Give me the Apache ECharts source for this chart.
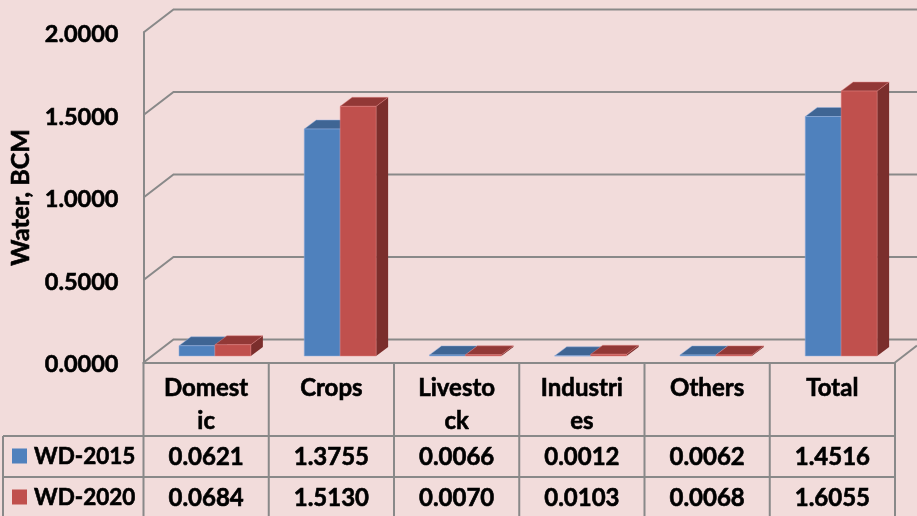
<!DOCTYPE html>
<html>
<head>
<meta charset="utf-8">
<style>html,body{margin:0;padding:0;background:#F2DCDB}#c{width:917px;height:516px}</style>
<script src="https://cdn.jsdelivr.net/npm/echarts@6/dist/echarts.min.js"></script>
</head>
<body>
<div id="c"></div>
<script>
const categories = ['Domest\nic', 'Crops', 'Livesto\nck', 'Industri\nes', 'Others', 'Total'];
const wd2015 = [0.0621, 1.3755, 0.0066, 0.0012, 0.0062, 1.4516];
const wd2020 = [0.0684, 1.5130, 0.0070, 0.0103, 0.0068, 1.6055];
const seriesNames = ['WD-2015', 'WD-2020'];
const yTicks = [0, 0.5, 1, 1.5, 2];

const FONT = 'bold 24px Lato';
const ROW_FONT = 'bold 22.5px Lato';
const LINE = '#898989';
const BG = '#F2DCDB';
const palettes = [
  { front: '#4F81BD', top: '#3F6594', side: '#335680', edge: 'rgba(150,180,225,0.6)' },
  { front: '#C0504D', top: '#923836', side: '#7B2E2C', edge: 'rgba(225,130,130,0.6)' }
];
const rowY = [457, 498];
const tableLines = [436, 477];
const heavy = { stroke: '#000', lineWidth: 0.6 };
const heavyLabel = { textBorderColor: '#000', textBorderWidth: 0.6 };

function barRender(idx) {
  return function (params, api) {
    const base = api.coord([api.value(0), 0]);
    const top = api.coord([api.value(0), api.value(1)]);
    const band = api.size([1, 0])[0];
    const w = band * 0.287, shiftX = 8.8, shiftY = 6.5, dx = 12, dy = 9;
    const x0 = base[0] + shiftX + (idx === 0 ? -w : 0), x1 = x0 + w;
    const yb = base[1] - shiftY, yt = top[1] - shiftY;
    const p = palettes[idx];
    const edge = { stroke: p.edge, lineWidth: 0.8 };
    return {
      type: 'group',
      children: [
        { type: 'polygon', shape: { points: [[x1, yb], [x1 + dx, yb - dy], [x1 + dx, yt - dy], [x1, yt]] }, style: { fill: p.side } },
        { type: 'polygon', shape: { points: [[x0, yt], [x0 + dx, yt - dy], [x1 + dx, yt - dy], [x1, yt]] }, style: Object.assign({ fill: p.top }, edge) },
        { type: 'rect', shape: { x: x0, y: yt, width: w, height: yb - yt }, style: Object.assign({ fill: p.front }, edge) }
      ]
    };
  };
}

function wallRender(params, api) {
  const cs = params.coordSys;
  const y = api.coord([0, api.value(0)])[1];
  const left = cs.x, dx = 30, dy = 23;
  return {
    type: 'polyline',
    shape: { points: [[left, y], [left + dx, y - dy], [917, y - dy]] },
    style: { stroke: LINE, lineWidth: 2, fill: null }
  };
}

function tableRender(params, api) {
  const x = api.coord([api.value(0), 0])[0];
  const band = api.size([1, 0])[0];
  const right = x + band / 2;
  const children = [
    { type: 'line', shape: { x1: right, y1: 362.5, x2: right, y2: 516 }, style: { stroke: LINE, lineWidth: 2 } }
  ];
  [api.value(1), api.value(2)].forEach((v, i) => {
    children.push({
      type: 'text',
      style: Object.assign({ text: v.toFixed(4), x: x, y: rowY[i], font: FONT, fill: '#000', align: 'center', verticalAlign: 'middle' }, heavy)
    });
  });
  return { type: 'group', children };
}

const graphicElements = [];
tableLines.forEach(y => graphicElements.push({
  type: 'line', shape: { x1: 3, y1: y, x2: 895, y2: y }, style: { stroke: LINE, lineWidth: 2 }, z: 1
}));
graphicElements.push(
  { type: 'line', shape: { x1: 3, y1: 436, x2: 3, y2: 516 }, style: { stroke: LINE, lineWidth: 2 }, z: 1 },
  { type: 'line', shape: { x1: 143.5, y1: 362, x2: 143.5, y2: 516 }, style: { stroke: LINE, lineWidth: 2 }, z: 1 },
  { type: 'line', shape: { x1: 895, y1: 362.5, x2: 917, y2: 345.6 }, style: { stroke: LINE, lineWidth: 2 }, z: 1 }
);
seriesNames.forEach((name, i) => {
  graphicElements.push(
    { type: 'rect', shape: { x: 12, y: rowY[i] - 8.5, width: 15, height: 15 }, style: { fill: palettes[i].front }, z: 2 },
    { type: 'text', style: Object.assign({ text: name, x: 34, y: rowY[i], font: ROW_FONT, fill: '#000', align: 'left', verticalAlign: 'middle' }, heavy), z: 2 }
  );
});

const chart = echarts.init(document.getElementById('c'), null, { renderer: 'canvas' });
chart.setOption({
  animation: false,
  backgroundColor: BG,
  grid: { left: 143.5, right: 22, top: 32.5, bottom: 153.5, containLabel: false, outerBoundsMode: 'none' },
  xAxis: {
    type: 'category',
    data: categories,
    axisLine: { lineStyle: { color: LINE, width: 2 } },
    axisTick: { show: false },
    axisLabel: Object.assign({ color: '#000', fontFamily: 'Lato', fontWeight: 'bold', fontSize: 24, lineHeight: 33.5, verticalAlign: 'top', margin: 9, interval: 0, hideOverlap: false }, heavyLabel)
  },
  yAxis: {
    type: 'value',
    min: 0, max: 2, interval: 0.5,
    name: 'Water, BCM',
    nameLocation: 'middle',
    nameGap: 106,
    nameRotate: 90,
    nameTextStyle: Object.assign({ color: '#000', fontFamily: 'Lato', fontWeight: 'bold', fontSize: 25 }, heavyLabel),
    axisLine: { show: true, lineStyle: { color: LINE, width: 2 } },
    axisTick: { show: false },
    splitLine: { show: false },
    axisLabel: Object.assign({ color: '#000', fontFamily: 'Lato', fontWeight: 'bold', fontSize: 23.5, margin: 25, verticalAlign: 'top', lineHeight: 4, formatter: v => v.toFixed(4) }, heavyLabel)
  },
  graphic: graphicElements,
  series: [
    { type: 'custom', name: 'wall', coordinateSystem: 'cartesian2d', data: yTicks.map(v => [v]), encode: { y: 0 }, renderItem: wallRender, silent: true, z: 1 },
    { type: 'custom', name: seriesNames[0], data: wd2015.map((v, i) => [i, v]), encode: { x: 0, y: 1 }, renderItem: barRender(0), z: 2 },
    { type: 'custom', name: seriesNames[1], data: wd2020.map((v, i) => [i, v]), encode: { x: 0, y: 1 }, renderItem: barRender(1), z: 3 },
    { type: 'custom', name: 'table', data: wd2015.map((v, i) => [i, v, wd2020[i]]), encode: { x: 0 }, renderItem: tableRender, silent: true, z: 4 }
  ]
});
</script>
</body>
</html>
